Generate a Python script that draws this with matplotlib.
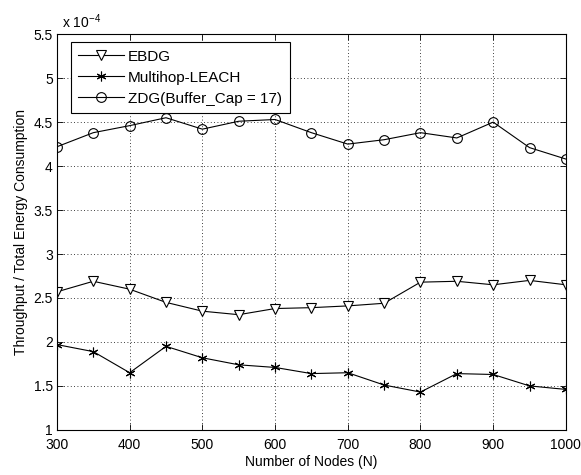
import numpy as np
import matplotlib.pyplot as plt

plt.rcParams['font.family'] = ['Liberation Sans', 'DejaVu Sans']

nodes = [300, 350, 400, 450, 500, 550, 600, 650, 700, 750, 800, 850, 900, 950, 1000]
ebdg = [2.57, 2.69, 2.60, 2.45, 2.35, 2.31, 2.38, 2.39, 2.41, 2.44, 2.68, 2.69, 2.65, 2.70, 2.65]
leach = [1.97, 1.89, 1.65, 1.95, 1.82, 1.74, 1.71, 1.64, 1.65, 1.51, 1.43, 1.64, 1.63, 1.50, 1.46]
zdg = [4.22, 4.38, 4.46, 4.55, 4.42, 4.51, 4.53, 4.38, 4.25, 4.30, 4.38, 4.32, 4.50, 4.21, 4.08]
labels = ["EBDG", "Multihop-LEACH", "ZDG(Buffer_Cap = 17)"]

fig = plt.figure(figsize=(5.81, 4.75), dpi=100)
ax = fig.add_axes([0.098, 0.095, 0.876, 0.833])

ax.plot(nodes, ebdg, color="black", lw=0.8, marker="v", ms=7, mfc="white", mec="black", mew=0.8,
        label=labels[0])
ax.plot(nodes, leach, color="black", lw=0.8, marker=(6, 2, 0), ms=7, mec="black", mew=0.8,
        label=labels[1])
ax.plot(nodes, zdg, color="black", lw=0.8, marker="o", ms=7, mfc="none", mec="black", mew=0.8,
        label=labels[2])

ax.set_xlim(300, 1000)
ax.set_ylim(1, 5.5)
ax.set_xticks(np.arange(300, 1001, 100))
ax.set_yticks(np.arange(1, 5.51, 0.5))
ax.set_yticklabels(["1", "1.5", "2", "2.5", "3", "3.5", "4", "4.5", "5", "5.5"])
ax.tick_params(direction="in", top=True, right=True, labelsize=10, length=4, width=0.6)
ax.tick_params(axis="x", pad=6)
ax.tick_params(axis="y", pad=3)
ax.grid(True, color="black", linestyle=(0, (1, 3)), lw=0.6)
for s in ax.spines.values():
    s.set_linewidth(0.8)

ax.set_xlabel("Number of Nodes (N)", fontsize=10, labelpad=2)
ax.set_ylabel("Throughput / Total Energy Consumption", fontsize=10, labelpad=4)
ax.text(0.01, 1.008, r"x 10$^{\mathregular{-4}}$", transform=ax.transAxes, fontsize=10,
        ha="left", va="bottom")

leg = ax.legend(loc="upper left", bbox_to_anchor=(0.027, 0.98), borderaxespad=0,
                fontsize=11, fancybox=False, edgecolor="black", framealpha=1,
                handlelength=3.0, handletextpad=0.25, borderpad=0.5, labelspacing=0.45)
leg.get_frame().set_linewidth(0.8)

fig.savefig("out.png", dpi=100)
